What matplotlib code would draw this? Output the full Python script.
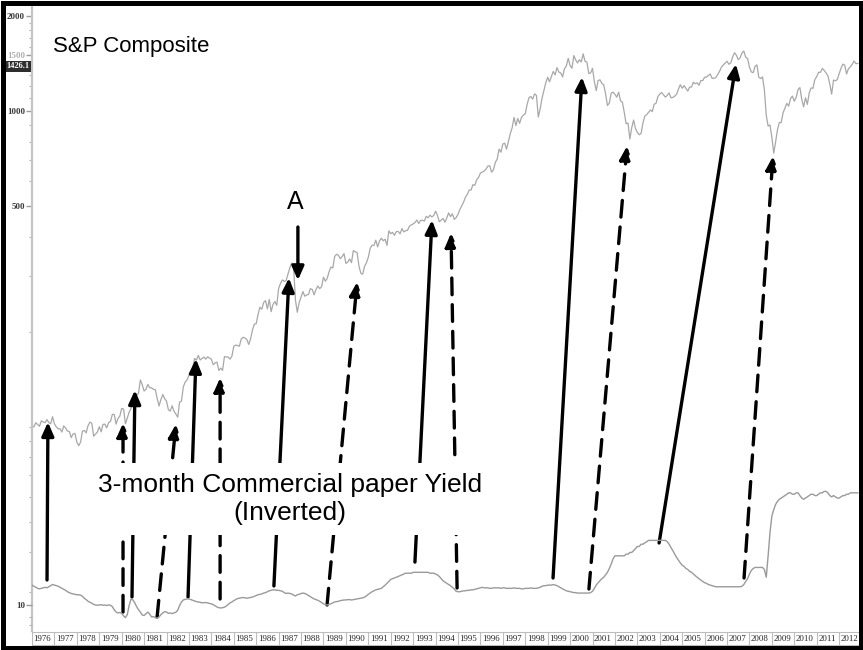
import matplotlib
matplotlib.use("Agg")
import matplotlib.pyplot as plt
import matplotlib.transforms as mtransforms
import numpy as np
from matplotlib.ticker import FixedLocator, NullFormatter
from matplotlib.patches import Rectangle

# ---------------- data ----------------
# S&P Composite, monthly (Jan 1976 .. Nov 2012)
sp_composite = [
    100.9, 99.7, 102.8, 101.6, 100.2, 104.3, 103.4, 102.9, 105.2, 102.9, 102.1, 107.5,
    102.0, 99.8, 98.4, 98.4, 96.1, 100.5, 98.9, 96.8, 96.5, 92.3, 94.8, 95.1,
    89.3, 87.0, 89.2, 96.8, 97.2, 95.5, 100.7, 103.3, 102.5, 93.2, 94.7, 96.1,
    99.9, 96.3, 101.6, 101.8, 99.1, 102.9, 103.8, 109.3, 109.3, 101.8, 106.2, 107.9,
    114.2, 113.7, 102.1, 106.3, 111.2, 114.2, 121.7, 122.4, 125.5, 127.5, 140.5, 135.8,
    129.6, 131.3, 136.0, 132.8, 132.6, 131.2, 130.9, 122.8, 116.2, 121.9, 126.4, 122.6,
    120.4, 113.1, 112.0, 116.4, 111.9, 109.6, 107.1, 119.5, 120.4, 133.7, 138.5, 140.6,
    145.3, 148.1, 153.0, 164.4, 162.4, 168.1, 162.6, 164.4, 166.1, 163.6, 166.4, 164.9,
    163.4, 157.1, 159.2, 160.1, 150.6, 153.2, 150.7, 166.7, 166.1, 166.1, 163.6, 167.2,
    179.6, 181.2, 180.7, 179.8, 189.6, 191.9, 190.9, 188.6, 182.1, 189.8, 202.2, 211.3,
    211.8, 226.9, 238.9, 235.5, 247.4, 250.8, 236.1, 252.9, 231.3, 244.0, 249.2, 242.2,
    274.1, 284.2, 291.7, 288.4, 290.1, 304.0, 318.7, 329.8, 321.8, 251.8, 230.3, 247.1,
    257.1, 267.8, 258.9, 261.3, 262.2, 273.5, 272.0, 261.5, 271.9, 279.0, 273.7, 277.7,
    297.5, 288.9, 294.9, 309.6, 320.5, 318.0, 346.1, 351.5, 349.2, 340.4, 346.0, 353.4,
    329.1, 331.9, 339.9, 330.8, 361.2, 358.0, 356.2, 322.6, 306.1, 304.0, 322.2, 330.2,
    343.9, 367.1, 375.2, 375.3, 389.8, 371.2, 387.8, 395.4, 387.9, 392.5, 375.2, 417.1,
    408.8, 412.7, 403.7, 415.0, 415.4, 408.1, 424.2, 414.0, 417.8, 418.7, 431.4, 435.7,
    438.8, 443.4, 451.7, 440.2, 450.2, 450.5, 448.1, 463.6, 458.9, 467.8, 461.8, 466.5,
    481.6, 467.1, 445.8, 450.9, 456.5, 444.3, 458.3, 475.5, 462.7, 472.4, 453.7, 459.3,
    470.4, 487.4, 500.7, 514.7, 533.4, 544.8, 562.1, 561.9, 584.4, 581.5, 605.4, 615.9,
    636.0, 640.4, 645.5, 654.2, 669.1, 670.6, 640.0, 652.0, 687.3, 705.3, 757.0, 740.7,
    786.2, 790.8, 757.1, 801.3, 848.3, 885.1, 954.3, 899.5, 947.3, 914.6, 955.4, 970.4,
    980.3, 1049.3, 1101.8, 1111.8, 1090.8, 1133.8, 1120.7, 957.3, 1017.0, 1098.7, 1163.6, 1229.2,
    1279.6, 1238.3, 1286.4, 1335.2, 1301.8, 1372.7, 1328.7, 1320.4, 1282.7, 1362.9, 1388.9, 1469.3,
    1394.5, 1366.4, 1498.6, 1452.4, 1420.6, 1454.6, 1430.8, 1517.7, 1436.5, 1429.4, 1315.0, 1320.3,
    1366.0, 1239.9, 1160.3, 1249.5, 1255.8, 1224.4, 1211.2, 1133.6, 1040.9, 1059.8, 1139.5, 1148.1,
    1130.2, 1106.7, 1147.4, 1076.9, 1067.1, 989.8, 911.6, 916.1, 815.3, 885.8, 936.3, 879.8,
    855.7, 841.2, 848.2, 916.9, 963.6, 974.5, 990.3, 1008.0, 996.0, 1050.7, 1058.2, 1111.9,
    1131.1, 1144.9, 1126.2, 1107.3, 1120.7, 1140.8, 1101.7, 1104.2, 1114.6, 1130.2, 1173.8, 1211.9,
    1181.3, 1203.6, 1180.6, 1156.9, 1191.5, 1191.3, 1234.2, 1220.3, 1228.8, 1207.0, 1249.5, 1248.3,
    1280.1, 1280.7, 1294.9, 1310.6, 1270.1, 1270.2, 1276.7, 1303.8, 1335.9, 1377.9, 1400.6, 1418.3,
    1438.2, 1406.8, 1420.9, 1482.4, 1530.6, 1503.4, 1455.3, 1474.0, 1526.8, 1549.4, 1481.1, 1468.4,
    1378.6, 1330.6, 1322.7, 1385.6, 1400.4, 1280.0, 1267.4, 1282.8, 1166.4, 968.8, 896.2, 903.3,
    825.9, 735.1, 797.9, 872.8, 919.1, 919.3, 987.5, 1020.6, 1057.1, 1036.2, 1095.6, 1115.1,
    1073.9, 1104.5, 1169.4, 1186.7, 1089.4, 1030.7, 1101.6, 1049.3, 1141.2, 1183.3, 1180.6, 1257.6,
    1286.1, 1327.2, 1325.8, 1363.6, 1345.2, 1320.6, 1292.3, 1218.9, 1131.4, 1253.3, 1247.0, 1257.6,
    1312.4, 1365.7, 1408.5, 1397.9, 1310.3, 1362.2, 1379.3, 1406.6, 1440.7, 1412.2, 1416.2,
]

# 3-month commercial paper yield (%), monthly (Jan 1976 .. Nov 2012)
cp_yield = [
    5.0, 5.2, 5.4, 5.6, 5.7, 5.6, 5.5, 5.4, 5.5, 5.3, 5.1, 4.9,
    5.0, 5.1, 5.2, 5.4, 5.6, 5.8, 6.0, 6.3, 6.5, 6.7, 6.8, 6.9,
    7.0, 7.0, 7.1, 7.4, 7.9, 8.3, 8.8, 9.1, 9.4, 9.8, 10.0, 10.1,
    10.0, 9.9, 10.1, 10.0, 10.2, 10.0, 10.1, 10.6, 11.8, 12.8, 13.2, 13.0,
    13.4, 14.6, 15.6, 14.0, 10.2, 8.1, 8.4, 9.3, 10.6, 11.8, 12.8, 14.2,
    14.4, 13.6, 12.8, 13.8, 15.2, 15.0, 15.6, 15.8, 15.2, 14.0, 13.2, 12.6,
    12.8, 13.4, 13.2, 13.5, 13.2, 12.9, 12.0, 10.2, 9.0, 8.4, 8.2, 8.1,
    8.1, 8.3, 8.5, 8.7, 8.9, 9.0, 9.1, 9.3, 9.2, 9.2, 9.3, 9.5,
    9.6, 9.9, 10.3, 10.7, 11.0, 11.1, 11.0, 10.8, 10.4, 9.8, 9.3, 9.0,
    8.6, 8.3, 8.0, 7.9, 7.8, 7.7, 7.8, 7.9, 7.8, 7.7, 7.6, 7.4,
    7.2, 7.0, 6.9, 6.8, 6.6, 6.5, 6.3, 6.1, 6.0, 5.9, 5.9, 6.0,
    6.0, 6.1, 6.2, 6.5, 6.7, 6.6, 6.7, 6.8, 7.1, 7.3, 7.0, 6.9,
    6.7, 6.6, 6.7, 6.9, 7.2, 7.5, 7.8, 8.1, 8.3, 8.5, 8.8, 9.2,
    9.6, 9.9, 10.0, 9.8, 9.6, 9.3, 9.0, 8.9, 8.8, 8.6, 8.5, 8.4,
    8.4, 8.3, 8.3, 8.4, 8.3, 8.2, 8.1, 8.0, 7.9, 7.8, 7.6, 7.3,
    6.9, 6.6, 6.3, 6.1, 5.9, 5.8, 5.7, 5.6, 5.3, 5.0, 4.7, 4.4,
    4.1, 4.0, 3.9, 3.8, 3.7, 3.6, 3.5, 3.4, 3.3, 3.3, 3.3, 3.3,
    3.2, 3.2, 3.2, 3.2, 3.2, 3.2, 3.2, 3.2, 3.2, 3.3, 3.3, 3.3,
    3.4, 3.5, 3.7, 4.0, 4.3, 4.5, 4.7, 4.9, 5.1, 5.4, 5.7, 6.2,
    6.3, 6.3, 6.2, 6.1, 6.1, 6.0, 6.0, 5.9, 5.9, 5.8, 5.7, 5.6,
    5.5, 5.4, 5.5, 5.5, 5.5, 5.6, 5.6, 5.5, 5.5, 5.5, 5.5, 5.6,
    5.5, 5.5, 5.6, 5.6, 5.6, 5.6, 5.5, 5.6, 5.6, 5.6, 5.7, 5.7,
    5.6, 5.6, 5.6, 5.5, 5.6, 5.6, 5.6, 5.5, 5.4, 5.2, 5.1, 5.1,
    5.0, 5.0, 5.0, 4.9, 5.0, 5.1, 5.3, 5.5, 5.7, 5.9, 6.1, 6.2,
    6.3, 6.4, 6.5, 6.5, 6.6, 6.6, 6.6, 6.6, 6.6, 6.6, 6.6, 6.5,
    6.2, 5.6, 5.0, 4.6, 4.3, 4.0, 3.8, 3.5, 3.2, 2.8, 2.4, 2.0,
    1.8, 1.8, 1.8, 1.8, 1.8, 1.8, 1.7, 1.7, 1.6, 1.6, 1.5, 1.4,
    1.3, 1.3, 1.2, 1.2, 1.15, 1.1, 1.05, 1.05, 1.05, 1.05, 1.05, 1.05,
    1.05, 1.05, 1.05, 1.05, 1.1, 1.2, 1.35, 1.5, 1.7, 1.9, 2.1, 2.3,
    2.5, 2.6, 2.8, 2.9, 3.1, 3.2, 3.4, 3.6, 3.8, 4.0, 4.2, 4.4,
    4.6, 4.7, 4.9, 5.0, 5.1, 5.2, 5.3, 5.3, 5.3, 5.3, 5.3, 5.3,
    5.3, 5.3, 5.3, 5.3, 5.3, 5.3, 5.3, 5.3, 5.2, 4.9, 4.4, 4.0,
    3.4, 3.0, 2.8, 2.7, 2.7, 2.7, 2.7, 2.7, 2.9, 3.8, 1.8, 0.8,
    0.45, 0.36, 0.30, 0.27, 0.25, 0.24, 0.23, 0.22, 0.21, 0.20, 0.20, 0.21,
    0.21, 0.20, 0.20, 0.22, 0.24, 0.25, 0.24, 0.23, 0.22, 0.21, 0.21, 0.22,
    0.22, 0.21, 0.20, 0.20, 0.19, 0.19, 0.20, 0.22, 0.23, 0.22, 0.23, 0.24,
    0.24, 0.23, 0.22, 0.22, 0.21, 0.21, 0.20, 0.20, 0.20, 0.20, 0.20,
]

years = list(range(1976, 2013))

# arrows: start on yield line (year, yield %) -> end on S&P (year, index)
arrow_start_year = [1976.67, 1980.06, 1980.46, 1981.58, 1982.96, 1984.39, 1986.79,
                    1989.16, 1993.08, 1994.96, 1999.24, 2000.84, 2003.97, 2007.76]
arrow_start_yield = [4.18, 12.8, 7.56, 15.2, 7.56, 8.11, 5.15,
                     10.0, 2.24, 5.53, 3.90, 5.73, 1.15, 3.90]
arrow_end_year = [1976.71, 1980.06, 1980.59, 1982.42, 1983.31, 1984.39, 1987.46,
                  1990.50, 1993.84, 1994.69, 2000.53, 2002.54, 2007.40, 2009.05]
arrow_end_sp = [103.3, 102.6, 130.4, 101.8, 163.9, 142.7, 295.8,
                287.2, 451.2, 410.5, 1281.5, 774.8, 1409.0, 720.0]
arrow_kind = ["solid", "dashed"] * 7

# marker "A"
a_year = 1987.86
a_from, a_to = 429.0, 291.0
a_label_val = 515.0
last_value_label = 1426.1

# ---------------- figure ----------------
W, H = 863, 650
fig = plt.figure(figsize=(W / 100, H / 100), dpi=100)
fig.patch.set_facecolor("white")

x0, x1 = 32, 860
y_top, y_bot = 5, 631
ax = fig.add_axes([x0 / W, 1 - y_bot / H, (x1 - x0) / W, (y_bot - y_top) / H])
t = 1976 + np.arange(len(sp_composite)) / 12.0
ax.plot(t, sp_composite, color="#a8a8a8", lw=0.9, zorder=2)
ax.set_yscale("log")
ax.set_ylim(22.5, 2168)
ax.set_xlim(1976.0, 1976 + (x1 - x0) / 22.42)

for s in ["top", "right", "bottom"]:
    ax.spines[s].set_visible(False)
ax.spines["left"].set_color("#c4c4c4")
ax.spines["left"].set_linewidth(1.6)
ax.tick_params(axis="x", bottom=False, labelbottom=False)
ax.yaxis.set_major_locator(FixedLocator([500, 1000, 1500, 2000]))
ax.set_yticklabels(["500", "1000", "1500", "2000"])
minor = list(range(30, 100, 10)) + list(range(100, 1000, 100)) + list(range(1100, 2000, 100))
ax.yaxis.set_minor_locator(FixedLocator(minor))
ax.yaxis.set_minor_formatter(NullFormatter())
ax.tick_params(axis="y", which="major", length=4, width=1, color="#9a9a9a",
               labelsize=6.5, labelcolor="#3a3a3a", pad=1)
ax.tick_params(axis="y", which="minor", length=2.5, width=0.8, color="#b5b5b5")
for lbl in ax.get_yticklabels():
    lbl.set_fontfamily("Liberation Serif")
    lbl.set_fontweight("bold")
    if lbl.get_text() == "1500":
        lbl.set_color("#b0b0b0")
        lbl.set_zorder(1)

# inverted yield on its own log scale
ax2 = ax.twinx()
ty = 1976 + np.arange(len(cp_yield)) / 12.0
ax2.plot(ty, cp_yield, color="#9a9a9a", lw=1.0)
ax2.set_yscale("log")
ax2.set_ylim(24.8, 8.1e-9)
for s in ax2.spines.values():
    s.set_visible(False)
ax2.yaxis.tick_left()
ax2.yaxis.set_major_locator(FixedLocator([10]))
ax2.set_yticklabels(["10"])
ax2.yaxis.set_minor_locator(FixedLocator([15, 20]))
ax2.yaxis.set_minor_formatter(NullFormatter())
ax2.tick_params(axis="y", which="major", length=4, width=1, color="#9a9a9a",
                labelsize=6.5, labelcolor="#3a3a3a", pad=1)
ax2.tick_params(axis="y", which="minor", length=2.5, width=0.8, color="#b5b5b5")
for lbl in ax2.get_yticklabels():
    lbl.set_fontfamily("Liberation Serif")
    lbl.set_fontweight("bold")

# current value box (drawn on top axes so it covers the faint 1500 label)
box_tr = mtransforms.offset_copy(ax.get_yaxis_transform(), fig=fig, x=0, y=-4, units="dots")
ax2.text(-0.003, last_value_label, f"{last_value_label}", transform=box_tr,
         ha="right", va="center", fontsize=6, color="white", fontweight="bold",
         family="Liberation Serif",
         bbox=dict(boxstyle="square,pad=0.2", fc="#2e2e2e", ec="none"), zorder=12, clip_on=False)

# arrows
head = "-|>,head_length=0.45,head_width=0.2"
for sx, sy, ex, ey, kind in zip(arrow_start_year, arrow_start_yield,
                                arrow_end_year, arrow_end_sp, arrow_kind):
    ls = "-" if kind == "solid" else (0, (5, 3))
    ax.annotate("", xy=(ex, ey), xycoords="data", xytext=(sx, sy), textcoords=ax2.transData,
                arrowprops=dict(arrowstyle=head, mutation_scale=18, lw=2.4, color="black",
                                linestyle=ls, shrinkA=0, shrinkB=0), zorder=5)

ax.annotate("", xy=(a_year, a_to), xytext=(a_year, a_from),
            arrowprops=dict(arrowstyle=head, mutation_scale=18, lw=2.4, color="black",
                            shrinkA=0, shrinkB=0), zorder=5)
ax.text(a_year - 0.12, a_label_val, "A", ha="center", va="center", fontsize=18,
        family="Liberation Sans", color="black")

ax.text(0.0254, 0.933, "S&P Composite", transform=ax.transAxes, ha="left", va="center",
        fontsize=16, family="Liberation Sans", color="black")

ax.text(0.3116, 0.211, "3-month Commercial paper Yield\n(Inverted)", transform=ax.transAxes,
        ha="center", va="center", multialignment="center", fontsize=19,
        family="Liberation Sans", color="black", linespacing=1.25,
        bbox=dict(boxstyle="square,pad=0.35", fc="white", ec="none"), zorder=10)

# year band
bax = fig.add_axes([x0 / W, 1 - 645 / H, (x1 - x0) / W, 13 / H])
bax.set_xlim(ax.get_xlim())
bax.set_ylim(0, 1)
bax.set_xticks([])
bax.set_yticks([])
for s in ["left", "right"]:
    bax.spines[s].set_visible(False)
for s in ["top", "bottom"]:
    bax.spines[s].set_color("#bdbdbd")
    bax.spines[s].set_linewidth(0.8)
bax.vlines(years, 0, 1, color="#bdbdbd", lw=0.8)
for yr in years:
    bax.text(yr + 0.07, 0.45, str(yr), ha="left", va="center", fontsize=6.3,
             family="Liberation Serif", color="#222222", clip_on=True)

# outer black frame
fig.patches.append(Rectangle((2.5 / W, 2.5 / H), (W - 5) / W, (H - 5) / H,
                             transform=fig.transFigure, fill=False, ec="black", lw=3.6,
                             zorder=20))

fig.savefig("out.png", dpi=100, facecolor="white")
